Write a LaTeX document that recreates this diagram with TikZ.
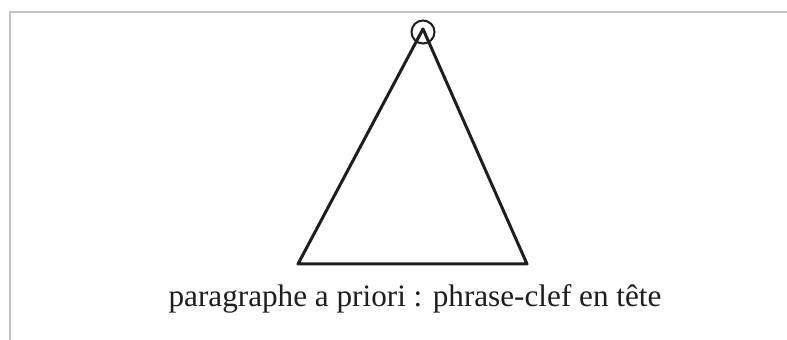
\documentclass[tikz,border=0pt]{standalone}
\usepackage{fontspec}
\setmainfont{Liberation Serif}
\usepackage{tikz}
\usetikzlibrary{positioning,calc}
\definecolor{FrameGray}{HTML}{C4C4C4}
\definecolor{InkDark}{HTML}{1E1E1E}

\begin{document}
\begin{tikzpicture}[
        x=0.5pt, y=-0.5pt,
        font=\fontsize{15.6}{18}\selectfont,
        frame/.style={draw=FrameGray, line width=1pt},
        side/.style={draw=InkDark, line width=1.5pt, line join=round},
        head/.style={circle, draw=InkDark, line width=1pt, minimum size=11.5pt, inner sep=0pt},
        legend/.style={text=InkDark, anchor=base, inner sep=0pt}
      ]
        \useasboundingbox (0,0) rectangle (787,340);
        \fill[white] (0,0) rectangle (787,340);
        \draw[frame] (10,340) -- (10,12) -- (787,12);

        \coordinate (apex) at (423,29);
        \coordinate (baseL) at (298,264);
        \coordinate (baseR) at (527,264);
        \node[head] (tete) at (423,32) {};

        \draw[side] (baseL) -- (apex) -- (baseR) -- cycle;

        \node[legend] (legende) at (415,307) {paragraphe a priori : phrase-clef en tête};
      \end{tikzpicture}
\end{document}
